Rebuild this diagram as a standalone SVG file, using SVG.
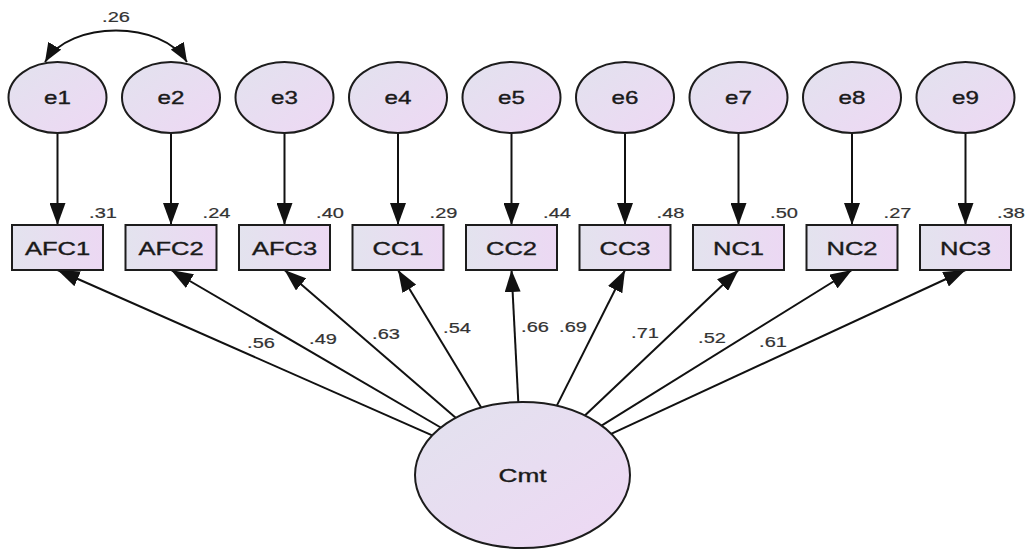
<svg xmlns="http://www.w3.org/2000/svg" width="1028" height="551" viewBox="0 0 1028 551">
  <style>
    .obs { fill: url(#boxFill); stroke: #1c1c1c; stroke-width: 2; }
    .lat { fill: url(#ellFill); stroke: #1c1c1c; stroke-width: 2; }
    .lbl { font-family: "Liberation Sans", Arial, sans-serif; fill: #1a1a1a; stroke: #1a1a1a; stroke-width: 0.35; text-anchor: middle; }
    .var { font-size: 18.5px; }
    .err { font-size: 17.5px; }
    .big { font-size: 19px; }
    .num { font-size: 14.5px; fill: #333; stroke: #333; stroke-width: 0.2; }
    .edge { fill: none; stroke: #111; stroke-width: 2; }
    .reg { marker-end: url(#head); }
    .cov { marker-start: url(#headS); marker-end: url(#headS); }
  </style>
  <defs>
    <linearGradient id="boxFill" x1="0" y1="0" x2="1" y2="0">
      <stop offset="0" stop-color="#e3e3ee"/>
      <stop offset="1" stop-color="#ecd8f3"/>
    </linearGradient>
    <linearGradient id="ellFill" x1="0" y1="0" x2="1" y2="1">
      <stop offset="0" stop-color="#e2e2ee"/>
      <stop offset="1" stop-color="#eed8f4"/>
    </linearGradient>
    <marker id="head" markerUnits="userSpaceOnUse" markerWidth="22" markerHeight="16" refX="22" refY="8" orient="auto">
      <path d="M0,0 L22,8 L0,16 z" fill="#111"/>
    </marker>
    <marker id="headS" markerUnits="userSpaceOnUse" markerWidth="19" markerHeight="15" refX="19" refY="7.5" orient="auto-start-reverse">
      <path d="M0,0 L19,7.5 L0,15 z" fill="#111"/>
    </marker>
  </defs>

  <!-- paths: error terms to indicators, factor loadings, covariance -->
  <g id="connectors">
    <line class="edge reg" x1="57.5" y1="133" x2="57.5" y2="225"/>
    <line class="edge reg" x1="171" y1="133" x2="171" y2="225"/>
    <line class="edge reg" x1="284.5" y1="133" x2="284.5" y2="225"/>
    <line class="edge reg" x1="398" y1="133" x2="398" y2="225"/>
    <line class="edge reg" x1="511.5" y1="133" x2="511.5" y2="225"/>
    <line class="edge reg" x1="625" y1="133" x2="625" y2="225"/>
    <line class="edge reg" x1="738.5" y1="133" x2="738.5" y2="225"/>
    <line class="edge reg" x1="852" y1="133" x2="852" y2="225"/>
    <line class="edge reg" x1="965.5" y1="133" x2="965.5" y2="225"/>

    <line class="edge reg" x1="432.2" y1="435.4" x2="57.5" y2="270"/>
    <line class="edge reg" x1="440.7" y1="427.5" x2="171" y2="270"/>
    <line class="edge reg" x1="455.7" y1="417.7" x2="284.5" y2="270"/>
    <line class="edge reg" x1="481.2" y1="407.5" x2="398" y2="270"/>
    <line class="edge reg" x1="518.3" y1="402" x2="511.5" y2="270"/>
    <line class="edge reg" x1="556.7" y1="405.9" x2="625" y2="270"/>
    <line class="edge reg" x1="584.6" y1="415.8" x2="738.5" y2="270"/>
    <line class="edge reg" x1="601.1" y1="425.9" x2="852" y2="270"/>
    <line class="edge reg" x1="610.6" y1="434.1" x2="965.5" y2="270"/>

    <path class="edge cov" d="M45,62 C70,20 162,20 187,62"/>
    <text class="lbl num" transform="translate(116,22) scale(1.38,1)">.26</text>

    <text class="lbl num" transform="translate(261,348) scale(1.38,1)">.56</text>
    <text class="lbl num" transform="translate(323,344) scale(1.38,1)">.49</text>
    <text class="lbl num" transform="translate(386,339) scale(1.38,1)">.63</text>
    <text class="lbl num" transform="translate(457,333) scale(1.38,1)">.54</text>
    <text class="lbl num" transform="translate(535,332) scale(1.38,1)">.66</text>
    <text class="lbl num" transform="translate(573,332) scale(1.38,1)">.69</text>
    <text class="lbl num" transform="translate(645,338) scale(1.38,1)">.71</text>
    <text class="lbl num" transform="translate(712,343) scale(1.38,1)">.52</text>
    <text class="lbl num" transform="translate(773,347) scale(1.38,1)">.61</text>
  </g>

  <!-- error terms -->
  <g id="e1"><ellipse class="lat" cx="57.5" cy="97.5" rx="49" ry="35.5"/><text class="lbl err" transform="translate(57.5,104) scale(1.38,1)">e1</text></g>
  <g id="e2"><ellipse class="lat" cx="171" cy="97.5" rx="49" ry="35.5"/><text class="lbl err" transform="translate(171,104) scale(1.38,1)">e2</text></g>
  <g id="e3"><ellipse class="lat" cx="284.5" cy="97.5" rx="49" ry="35.5"/><text class="lbl err" transform="translate(284.5,104) scale(1.38,1)">e3</text></g>
  <g id="e4"><ellipse class="lat" cx="398" cy="97.5" rx="49" ry="35.5"/><text class="lbl err" transform="translate(398,104) scale(1.38,1)">e4</text></g>
  <g id="e5"><ellipse class="lat" cx="511.5" cy="97.5" rx="49" ry="35.5"/><text class="lbl err" transform="translate(511.5,104) scale(1.38,1)">e5</text></g>
  <g id="e6"><ellipse class="lat" cx="625" cy="97.5" rx="49" ry="35.5"/><text class="lbl err" transform="translate(625,104) scale(1.38,1)">e6</text></g>
  <g id="e7"><ellipse class="lat" cx="738.5" cy="97.5" rx="49" ry="35.5"/><text class="lbl err" transform="translate(738.5,104) scale(1.38,1)">e7</text></g>
  <g id="e8"><ellipse class="lat" cx="852" cy="97.5" rx="49" ry="35.5"/><text class="lbl err" transform="translate(852,104) scale(1.38,1)">e8</text></g>
  <g id="e9"><ellipse class="lat" cx="965.5" cy="97.5" rx="49" ry="35.5"/><text class="lbl err" transform="translate(965.5,104) scale(1.38,1)">e9</text></g>

  <!-- observed indicators with squared multiple correlations -->
  <g id="AFC1"><rect class="obs" x="12" y="225" width="91" height="45"/><text class="lbl var" transform="translate(57.5,254.5) scale(1.38,1)">AFC1</text><text class="lbl num" transform="translate(103,218) scale(1.38,1)">.31</text></g>
  <g id="AFC2"><rect class="obs" x="125.5" y="225" width="91" height="45"/><text class="lbl var" transform="translate(171,254.5) scale(1.38,1)">AFC2</text><text class="lbl num" transform="translate(216.5,218) scale(1.38,1)">.24</text></g>
  <g id="AFC3"><rect class="obs" x="239" y="225" width="91" height="45"/><text class="lbl var" transform="translate(284.5,254.5) scale(1.38,1)">AFC3</text><text class="lbl num" transform="translate(330,218) scale(1.38,1)">.40</text></g>
  <g id="CC1"><rect class="obs" x="352.5" y="225" width="91" height="45"/><text class="lbl var" transform="translate(398,254.5) scale(1.38,1)">CC1</text><text class="lbl num" transform="translate(443.5,218) scale(1.38,1)">.29</text></g>
  <g id="CC2"><rect class="obs" x="466" y="225" width="91" height="45"/><text class="lbl var" transform="translate(511.5,254.5) scale(1.38,1)">CC2</text><text class="lbl num" transform="translate(557,218) scale(1.38,1)">.44</text></g>
  <g id="CC3"><rect class="obs" x="579.5" y="225" width="91" height="45"/><text class="lbl var" transform="translate(625,254.5) scale(1.38,1)">CC3</text><text class="lbl num" transform="translate(670.5,218) scale(1.38,1)">.48</text></g>
  <g id="NC1"><rect class="obs" x="693" y="225" width="91" height="45"/><text class="lbl var" transform="translate(738.5,254.5) scale(1.38,1)">NC1</text><text class="lbl num" transform="translate(784,218) scale(1.38,1)">.50</text></g>
  <g id="NC2"><rect class="obs" x="806.5" y="225" width="91" height="45"/><text class="lbl var" transform="translate(852,254.5) scale(1.38,1)">NC2</text><text class="lbl num" transform="translate(897.5,218) scale(1.38,1)">.27</text></g>
  <g id="NC3"><rect class="obs" x="920" y="225" width="91" height="45"/><text class="lbl var" transform="translate(965.5,254.5) scale(1.38,1)">NC3</text><text class="lbl num" transform="translate(1011,218) scale(1.38,1)">.38</text></g>

  <!-- latent factor -->
  <g id="Cmt"><ellipse class="lat" cx="522.5" cy="475" rx="107.5" ry="73"/><text class="lbl big" transform="translate(522.5,482) scale(1.38,1)">Cmt</text></g>
</svg>
